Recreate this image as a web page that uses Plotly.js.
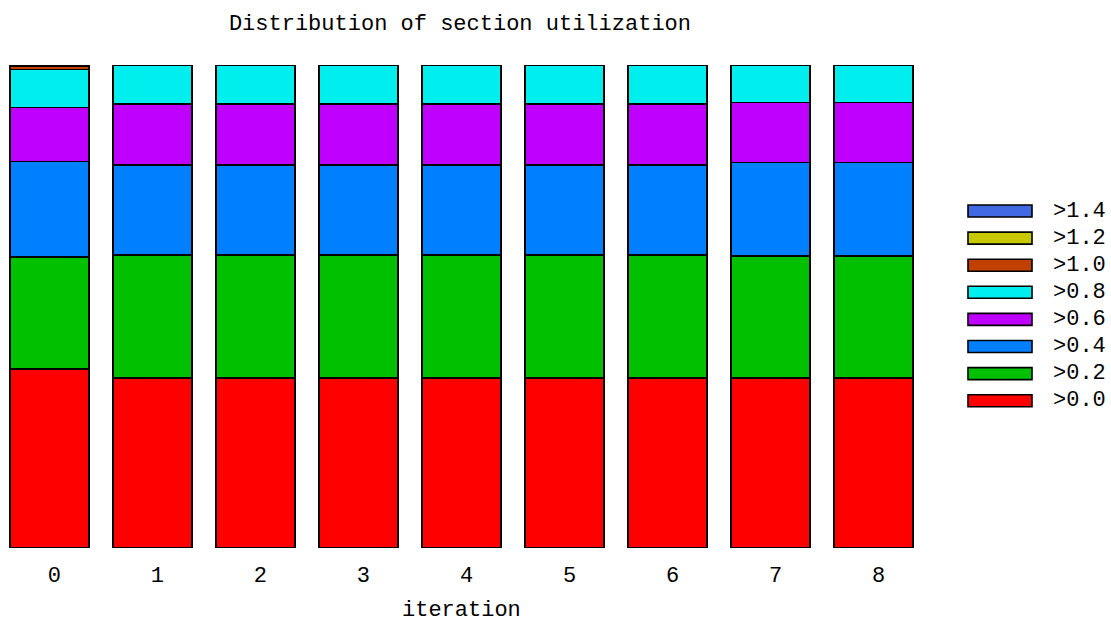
<!DOCTYPE html>
<html>
<head>
<meta charset="utf-8">
<script src="https://cdn.plot.ly/plotly-3.0.1.min.js"></script>
<style>html,body{margin:0;padding:0;background:#fff;} #chart{width:1111px;height:623px;}</style>
</head>
<body>
<div id="chart"></div>
<script>
var iterations = ["0","1","2","3","4","5","6","7","8"];
var seriesNames = [">0.0", ">0.2", ">0.4", ">0.6", ">0.8", ">1.0", ">1.2", ">1.4"];
var seriesColors = ["#ff0000", "#00c000", "#0080ff", "#bf00ff", "#00eeee", "#c04000", "#c8c800", "#4169e1"];

var gt00 = [0.371, 0.352, 0.352, 0.352, 0.352, 0.352, 0.352, 0.352, 0.352];
var gt02 = [0.232, 0.255, 0.255, 0.255, 0.255, 0.255, 0.255, 0.253, 0.253];
var gt04 = [0.197, 0.186, 0.186, 0.186, 0.186, 0.186, 0.186, 0.193, 0.193];
var gt06 = [0.112, 0.126, 0.126, 0.126, 0.126, 0.126, 0.126, 0.124, 0.124];
var gt08 = [0.079, 0.080, 0.080, 0.080, 0.080, 0.080, 0.080, 0.078, 0.078];
var gt10 = [0.007, 0.001, 0.001, 0.001, 0.001, 0.001, 0.001, 0.000, 0.000];
var gt12 = [0.001, 0.000, 0.000, 0.000, 0.000, 0.000, 0.000, 0.000, 0.000];
var gt14 = [0.001, 0.000, 0.000, 0.000, 0.000, 0.000, 0.000, 0.000, 0.000];

var seriesValues = [gt00, gt02, gt04, gt06, gt08, gt10, gt12, gt14];

var FONT = "Liberation Mono, DejaVu Sans Mono, monospace";
var FS = 22;

var traces = seriesValues.map(function (vals, i) {
  return {
    type: "bar",
    name: seriesNames[i],
    x: iterations.map(Number),
    y: vals,
    marker: { color: seriesColors[i], line: { color: "#000", width: 1.6 } },
    showlegend: false,
    hoverinfo: "x+y+name"
  };
});

// custom legend (wide swatches, like the reference)
var shapes = [];
var annotations = [];
var legTop = 211, legStep = 27.1;
for (var k = 0; k < seriesNames.length; k++) {
  var idx = seriesNames.length - 1 - k;
  var cy = legTop + k * legStep;
  shapes.push({
    type: "rect", xref: "paper", yref: "paper",
    x0: 968 / 925, x1: 1032 / 925,
    y0: (548 - (cy + 6)) / 483, y1: (548 - (cy - 6)) / 483,
    fillcolor: seriesColors[idx], line: { color: "#000", width: 1.6 }
  });
  annotations.push({
    xref: "paper", yref: "paper", x: 1051 / 925, y: (548 - cy) / 483,
    xanchor: "left", yanchor: "middle", text: seriesNames[idx], showarrow: false,
    font: { family: FONT, size: FS, color: "#000" }
  });
}
// x-axis title
annotations.push({
  xref: "paper", yref: "paper", x: 461 / 925, y: (548 - 610) / 483,
  xanchor: "center", yanchor: "middle", text: "iteration", showarrow: false,
  borderpad: 0,
  font: { family: FONT, size: FS, color: "#000" }
});

var layout = {
  width: 1111, height: 623,
  margin: { l: 0, r: 186, t: 65, b: 75 },
  paper_bgcolor: "#fff", plot_bgcolor: "#fff",
  barmode: "stack",
  bargap: 0.233,
  title: { text: "Distribution of section utilization", x: 0.414, xanchor: "center", y: 0.965, yanchor: "middle",
           font: { family: FONT, size: FS, color: "#000" } },
  xaxis: {
    range: [-0.48, 8.5], tickvals: iterations.map(Number), ticktext: iterations,
    showgrid: false, zeroline: false, showline: false, ticks: "",
    ticklabelstandoff: 11, ticklabelshift: 5,
    tickfont: { family: FONT, size: FS, color: "#000" }
  },
  yaxis: {
    range: [0, 1], visible: false, showgrid: false, zeroline: false
  },
  shapes: shapes,
  annotations: annotations,
  showlegend: false
};

Plotly.newPlot("chart", traces, layout, { displayModeBar: false, staticPlot: true });
</script>
</body>
</html>
